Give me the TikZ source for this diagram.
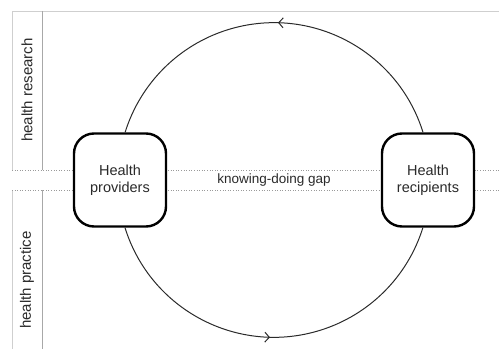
\documentclass[tikz,border=0pt]{standalone}
\usepackage{fontspec}
\setmainfont{Liberation Sans}
\usepackage{xcolor}
\usetikzlibrary{positioning,arrows.meta,decorations.markings}

\definecolor{inkgrey}{HTML}{2A2A2A}
\definecolor{framegrey}{HTML}{CFCFCF}
\definecolor{rulegrey}{HTML}{A8A8A8}
\definecolor{dotgrey}{HTML}{9A9A9A}

\begin{document}
\begin{tikzpicture}[
		x=1pt,y=1pt,
		>={Straight Barb[length=4.5pt,width=10pt]},
		actor/.style={
			draw=black,
			line width=2.4pt,
			fill=white,
			rectangle,
			rounded corners=20pt,
			minimum width=92pt,
			minimum height=93pt,
			align=center,
			text=inkgrey,
			font=\fontsize{14.5}{17}\selectfont
		},
		sidelabel/.style={rotate=90,text=inkgrey,font=\fontsize{15}{18}\selectfont},
		frameline/.style={draw=framegrey,line width=0.8pt},
		splitline/.style={draw=rulegrey,line width=0.6pt},
		gapline/.style={draw=dotgrey,dotted,line width=0.6pt},
		cycle arc/.style={
			draw=inkgrey,line width=1pt,
			postaction={decorate},
			decoration={markings,mark=at position 0.49 with {\arrow{>}}}
		}
		]
		\useasboundingbox (0,0) rectangle (499,349);
		
		% Research and practice panels
		\draw[frameline] (499,338) -- (12,338) -- (12,179);
		\draw[frameline] (12,159) -- (12,0);
		\draw[splitline] (42,338) -- (42,179);
		\draw[splitline] (42,159) -- (42,0);
		\draw[gapline] (12,179) -- (499,179);
		\draw[gapline] (12,159) -- (499,159);
		\node[sidelabel] (research) at (27,259) {health research};
		\node[sidelabel] (practice) at (27,69) {health practice};
		
		% The two actors
		\node[actor] (providers) at (120,169) {Health\\providers};
		\node[actor] (recipients) at (428,169) {Health\\recipients};
		\node[text=inkgrey,font=\fontsize{13.5}{16}\selectfont] (gap) at (274,169) {knowing-doing gap};
		
		% Cycle between them
		\draw[cycle arc] ([xshift=-5pt]recipients.north) arc[start angle=17.3,end angle=162.7,radius=156];
		\draw[cycle arc] ([xshift=5pt]providers.south) arc[start angle=197.3,end angle=342.7,radius=156];
	\end{tikzpicture}
\end{document}
